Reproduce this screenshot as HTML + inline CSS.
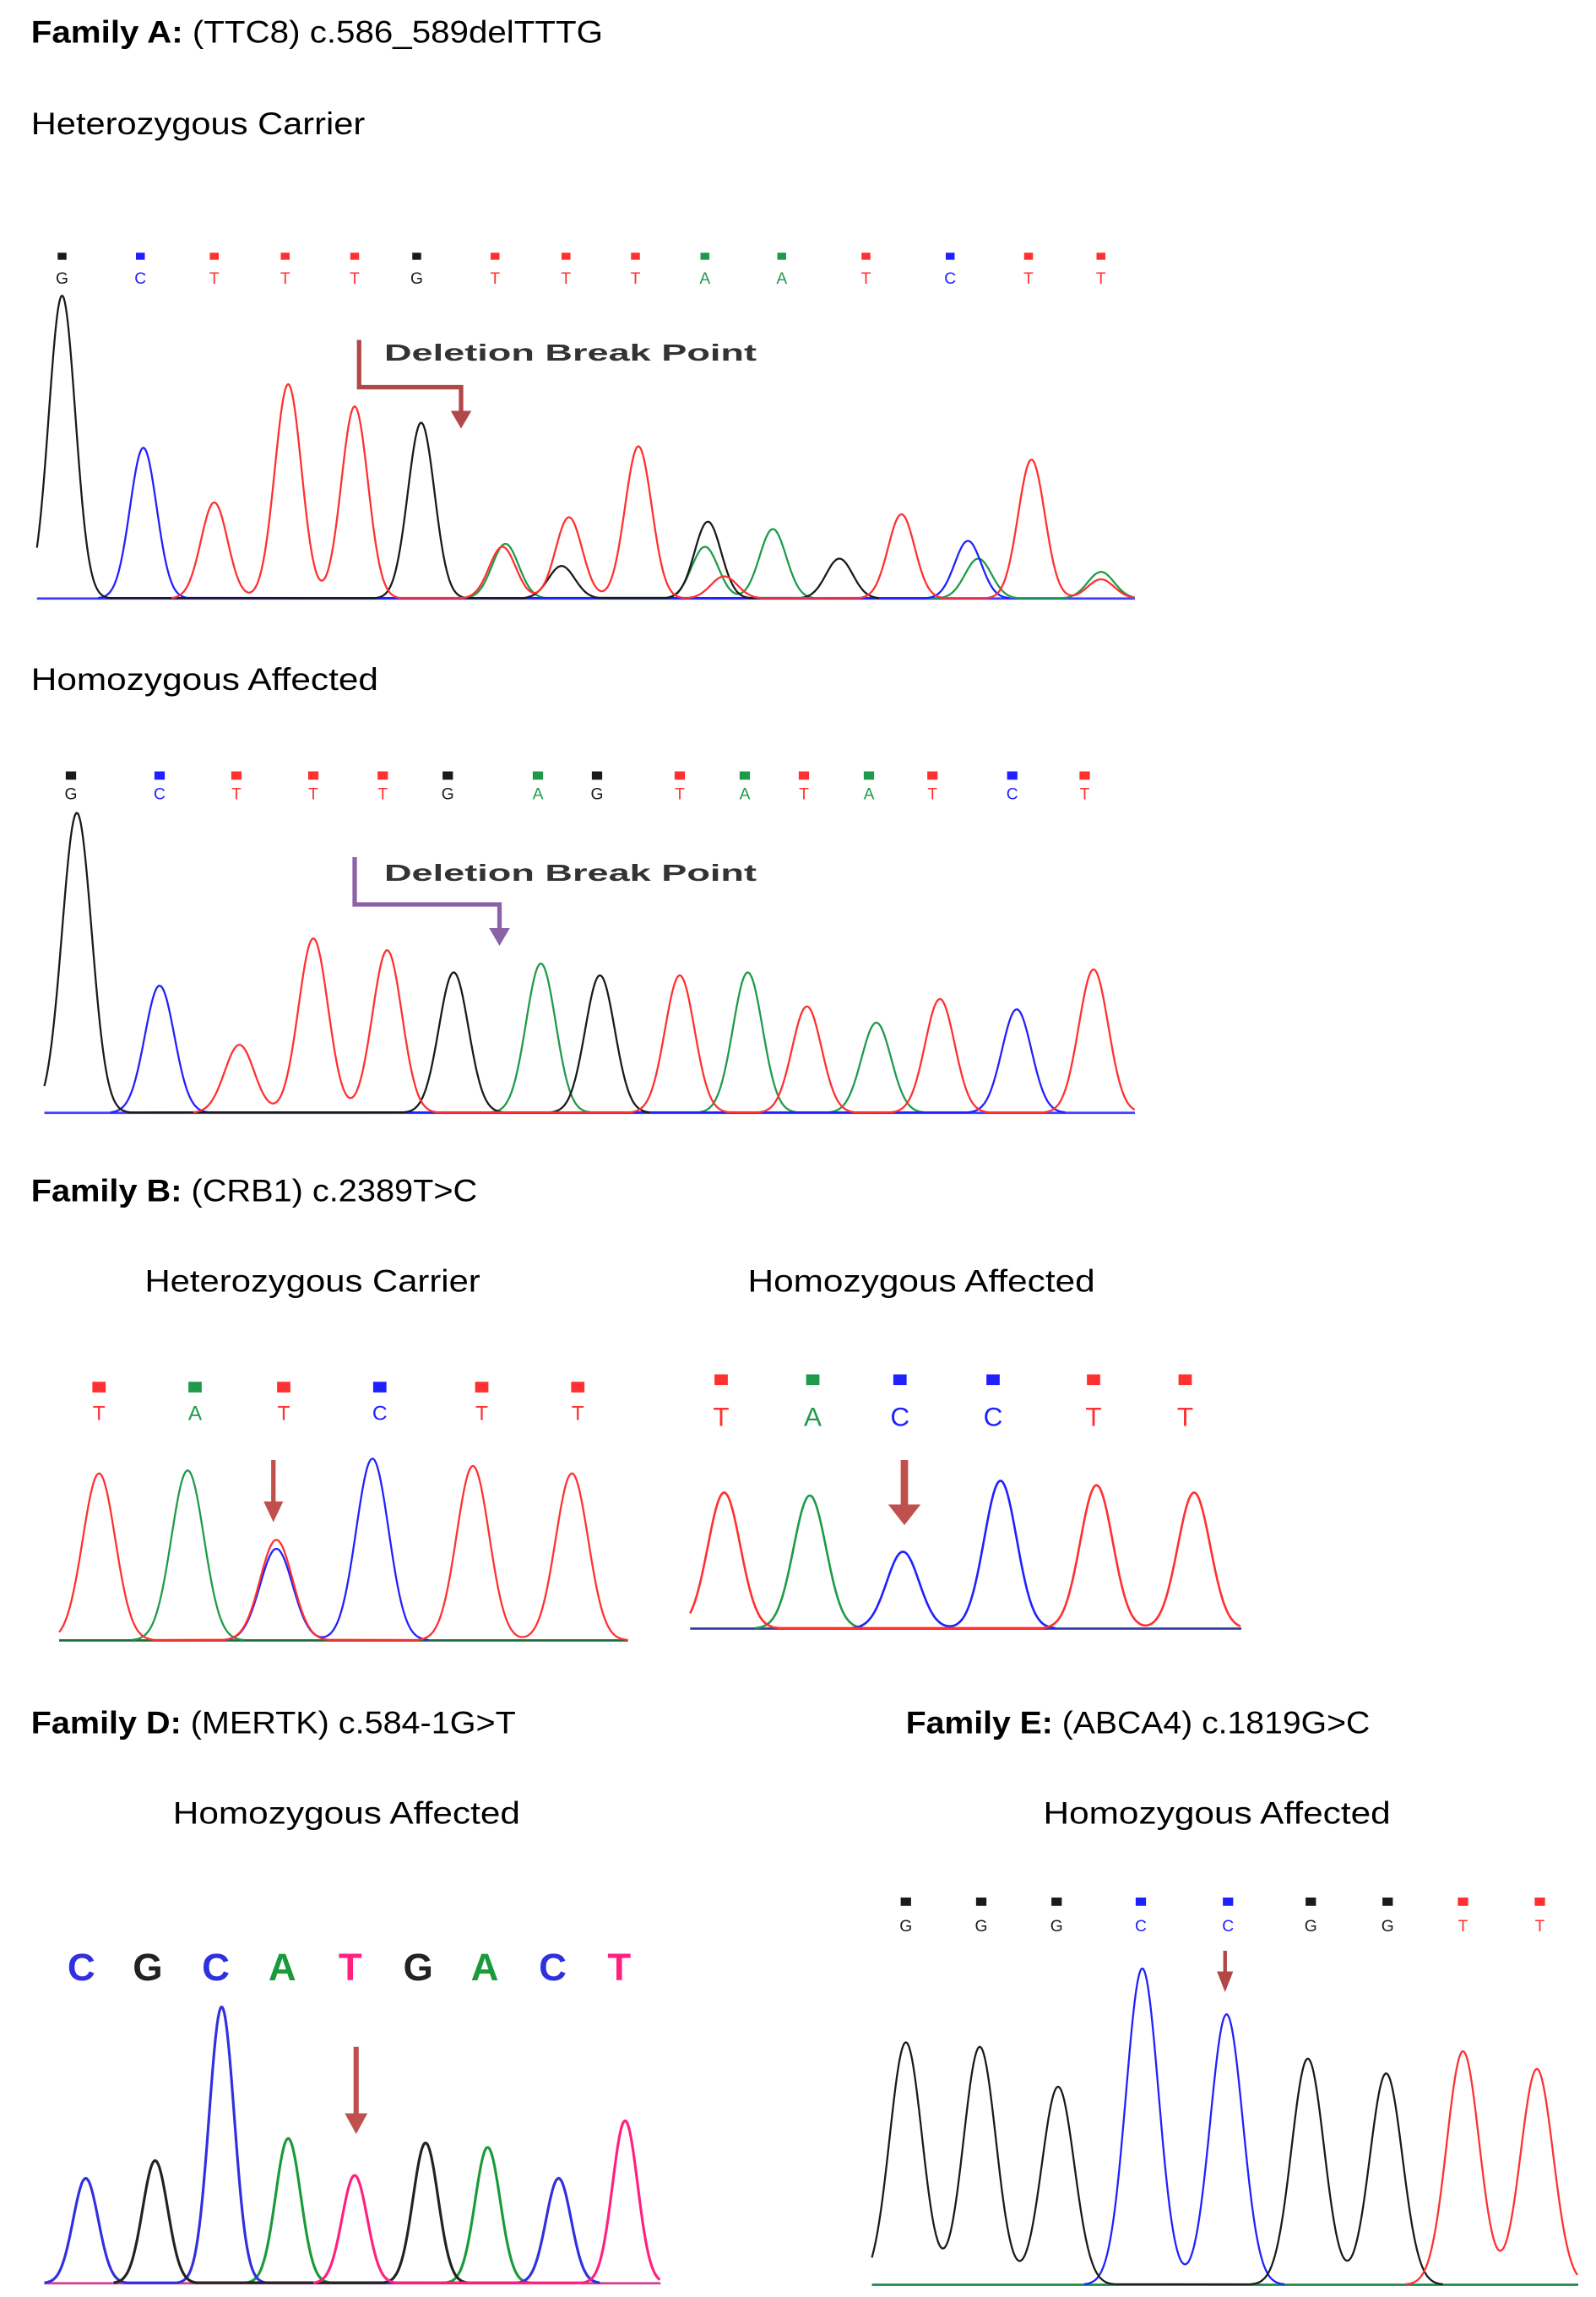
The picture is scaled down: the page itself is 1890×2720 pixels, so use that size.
<!DOCTYPE html>
<html><head><meta charset="utf-8"><style>
html,body{margin:0;padding:0;background:#fff;}
svg{display:block;}
text{font-family:"Liberation Sans",sans-serif;}
</style></head><body>
<svg id="fig" width="1890" height="2720" viewBox="0 0 1080 1554.3" xmlns="http://www.w3.org/2000/svg">
<g fill="#000" font-size="21">
<text x="21" y="29" textLength="387" lengthAdjust="spacingAndGlyphs"><tspan font-weight="bold">Family A:</tspan> (TTC8)  c.586_589delTTTG</text>
<text x="21" y="91" textLength="226" lengthAdjust="spacingAndGlyphs">Heterozygous Carrier</text>
<text x="21" y="467" textLength="235" lengthAdjust="spacingAndGlyphs">Homozygous Affected</text>
<text x="21" y="813" textLength="302" lengthAdjust="spacingAndGlyphs"><tspan font-weight="bold">Family B:</tspan> (CRB1)  c.2389T&gt;C</text>
<text x="98" y="874" textLength="227" lengthAdjust="spacingAndGlyphs">Heterozygous Carrier</text>
<text x="506" y="874" textLength="235" lengthAdjust="spacingAndGlyphs">Homozygous Affected</text>
<text x="21" y="1173" textLength="328" lengthAdjust="spacingAndGlyphs"><tspan font-weight="bold">Family D:</tspan> (MERTK) c.584-1G&gt;T</text>
<text x="613" y="1173" textLength="314" lengthAdjust="spacingAndGlyphs"><tspan font-weight="bold">Family E:</tspan> (ABCA4) c.1819G&gt;C</text>
<text x="117" y="1234" textLength="235" lengthAdjust="spacingAndGlyphs">Homozygous Affected</text>
<text x="706" y="1234" textLength="235" lengthAdjust="spacingAndGlyphs">Homozygous Affected</text>
</g>
<g id="charts"></g>
</svg>
<script>
// ---- Chart data (scan position, signal intensity) ----
const a1Bases = ["G","C","T","T","T","G","T","T","T","A","A","T","C","T","T"];
const a1BasePos = [42,95,145,193,240,282,335,383,430,477,529,586,643,696,745];
const a1PeakBase = ["G","C","T","T","T","G","A","T","G","T","T","G","A","A","T","G","T","C","A","T","A","T"];
const a1PeakPos = [42,97,145,195,240,285,342,340,380,385,432,479,477,523,490,568,610,655,662,698,745,745];
const a1PeakVal = [205,102,65,145,130,119,37,35,22,55,103,52,35,47,15,27,57,39,27,94,18,13];

const a2Bases = ["G","C","T","T","T","G","A","G","T","A","T","A","T","C","T"];
const a2BasePos = [48,108,160,212,259,303,364,404,460,504,544,588,631,685,734];
const a2PeakBase = ["G","C","T","T","T","G","A","G","T","A","T","A","T","C","T"];
const a2PeakPos = [52,108,162,212,262,307,366,406,460,506,546,593,636,688,740];
const a2PeakVal = [203,86,46,118,110,95,101,93,93,95,72,61,77,70,97];

const b1Bases = ["T","A","T","C","T","T"];
const b1BasePos = [67,132,192,257,326,391];
const b1PeakBase = ["T","A","T","C","C","T","T"];
const b1PeakPos = [67,127,187,187,252,320,387];
const b1PeakVal = [113,115,68,62,123,118,113];

const b2Bases = ["T","A","C","C","T","T"];
const b2BasePos = [488,550,609,672,740,802];
const b2PeakBase = ["T","A","C","C","T","T"];
const b2PeakPos = [490,548,611,677,742,808];
const b2PeakVal = [92,90,52,100,97,92];

const dBases = ["C","G","C","A","T","G","A","C","T"];
const dBasePos = [55,100,146,191,237,283,328,374,419];
const dPeakBase = ["C","G","C","A","T","G","A","C","T"];
const dPeakPos = [58,105,150,195,240,288,330,378,423];
const dPeakVal = [71,83,187,98,73,95,92,71,110];

const eBases = ["G","G","G","C","C","G","G","T","T"];
const eBasePos = [613,664,715,772,831,887,939,990,1042];
const ePeakBase = ["G","G","G","C","C","G","G","T","T"];
const ePeakPos = [613,663,716,773,830,885,938,990,1040];
const ePeakVal = [164,161,134,214,183,153,143,158,146];

const COLORS = {G:"#1a1a1a",C:"#2020ff",T:"#ff3030",A:"#1e9a4a"};
const DCOLORS = {G:"#222",C:"#3030e0",T:"#ff2080",A:"#1a9a3a"};
const NS="http://www.w3.org/2000/svg";
const root=document.getElementById('charts');
function mk(tag,attrs,parent){const e=document.createElementNS(NS,tag);for(const k in attrs)e.setAttribute(k,attrs[k]);(parent||root).appendChild(e);return e;}

function chart(cfg){
  const g=mk('g',{});
  
  
  const xs=v=>cfg.x0+(v-cfg.x0);          // scan -> x axis
  const ys=v=>cfg.base-v*cfg.scale;       // intensity -> y axis
  // baseline
  const bl=mk('line',{x1:cfg.x0,x2:cfg.x1,y1:cfg.base,y2:cfg.base,stroke:cfg.baseColor,'stroke-width':1.6},g);
  
  
  // traces per channel
  const cols=cfg.colors||COLORS;
  ["A","C","G","T"].forEach(b=>{
    const idx=[];cfg.pb.forEach((pb,i)=>{if(pb===b)idx.push(i);});
    if(!idx.length)return;
    let d="";
    for(let x=cfg.x0;x<=cfg.x1;x+=0.7){
      let s=0;idx.forEach(i=>{const dx=x-xs(cfg.pp[i]);s+=cfg.pv[i]*Math.exp(-dx*dx/(2*cfg.sigma*cfg.sigma));});
      if(s<0.3)continue;
      d+=(d===""||d.endsWith("M")?"M":"L")+x.toFixed(1)+","+ys(s).toFixed(1)+" ";
    }
    const p=mk('path',{d:d,fill:'none',stroke:cols[b],'stroke-width':cfg.sw||1.3},g);
    
    
  });
  // base calls
  cfg.bases.forEach((b,i)=>{
    const x=xs(cfg.bpos[i]);
    if(cfg.mark){
      const r=mk('rect',{x:x-cfg.mark/2,y:cfg.markY,width:cfg.mark,height:cfg.mark*0.8,fill:cols[b]},g);
      
      
    }
    const t=mk('text',{x:x,y:cfg.letterY,'text-anchor':'middle','font-size':cfg.fs,fill:cols[b],'font-family':'"Liberation Mono",monospace','font-weight':cfg.bold?'bold':'normal'},g);
    t.textContent=b;
    
    
  });
  return g;
}

chart({name:'chart-a-het',x0:25,x1:768,base:405,scale:1,sigma:9,bases:a1Bases,bpos:a1BasePos,pb:a1PeakBase,pp:a1PeakPos,pv:a1PeakVal,baseColor:'#4040ff',mark:6,markY:171,letterY:192,fs:11});
chart({name:'chart-a-hom',x0:30,x1:768,base:753,scale:1,sigma:10,bases:a2Bases,bpos:a2BasePos,pb:a2PeakBase,pp:a2PeakPos,pv:a2PeakVal,baseColor:'#4040ff',mark:7,markY:522,letterY:541,fs:11});
chart({name:'chart-b-het',x0:40,x1:425,base:1110,scale:1,sigma:11,bases:b1Bases,bpos:b1BasePos,pb:b1PeakBase,pp:b1PeakPos,pv:b1PeakVal,baseColor:'#1e6a3a',mark:9,markY:935,letterY:961,fs:14});
chart({name:'chart-b-hom',x0:467,x1:840,base:1102,scale:1,sigma:11,bases:b2Bases,bpos:b2BasePos,pb:b2PeakBase,pp:b2PeakPos,pv:b2PeakVal,baseColor:'#3040a0',mark:9,markY:930,letterY:965,fs:18,sw:1.5});
chart({name:'chart-d-hom',x0:30,x1:447,base:1545,scale:1,sigma:8.5,bases:dBases,bpos:dBasePos,pb:dPeakBase,pp:dPeakPos,pv:dPeakVal,baseColor:'#d04090',colors:DCOLORS,letterY:1340,fs:26,bold:true,sw:1.8});
chart({name:'chart-e-hom',x0:590,x1:1068,base:1546,scale:1,sigma:11,bases:eBases,bpos:eBasePos,pb:ePeakBase,pp:ePeakPos,pv:ePeakVal,baseColor:'#1e8a4a',mark:7,markY:1284,letterY:1307,fs:11});

// arrows & annotations
function arrowDown(name,x,y1,y2,col,w){
  const g=mk('g',{});
  
  
  mk('line',{x1:x,x2:x,y1:y1,y2:y2-10,stroke:col,'stroke-width':w},g);
  mk('polygon',{points:`${x-w*2.2},${y2-14} ${x+w*2.2},${y2-14} ${x},${y2}`,fill:col},g);
}
function elbow(name,x1,y1,x2,y2,col,label,ly){
  const g=mk('g',{});
  
  
  mk('polyline',{points:`${x1},${y1} ${x1},${y1+32} ${x2},${y1+32} ${x2},${y2-8}`,fill:'none',stroke:col,'stroke-width':3},g);
  mk('polygon',{points:`${x2-7},${y2-12} ${x2+7},${y2-12} ${x2},${y2}`,fill:col},g);
  const t=mk('text',{x:260,y:ly,'font-size':16,'font-weight':'bold',fill:'#333',textLength:252,lengthAdjust:'spacingAndGlyphs'},g);
  t.textContent=label;
  
  
}
elbow('breakpoint-arrow-a-het',243,230,312,290,'#b04848','Deletion Break Point',244);
elbow('breakpoint-arrow-a-hom',240,580,338,640,'#8a62a8','Deletion Break Point',596);
arrowDown('variant-arrow-b-het',185,988,1030,'#c0504d',3);
arrowDown('variant-arrow-b-hom',612,988,1032,'#c0504d',5);
arrowDown('variant-arrow-d',241,1385,1444,'#c0504d',3.5);
arrowDown('variant-arrow-e',829,1320,1348,'#b04848',2.5);
</script>
</body></html>
